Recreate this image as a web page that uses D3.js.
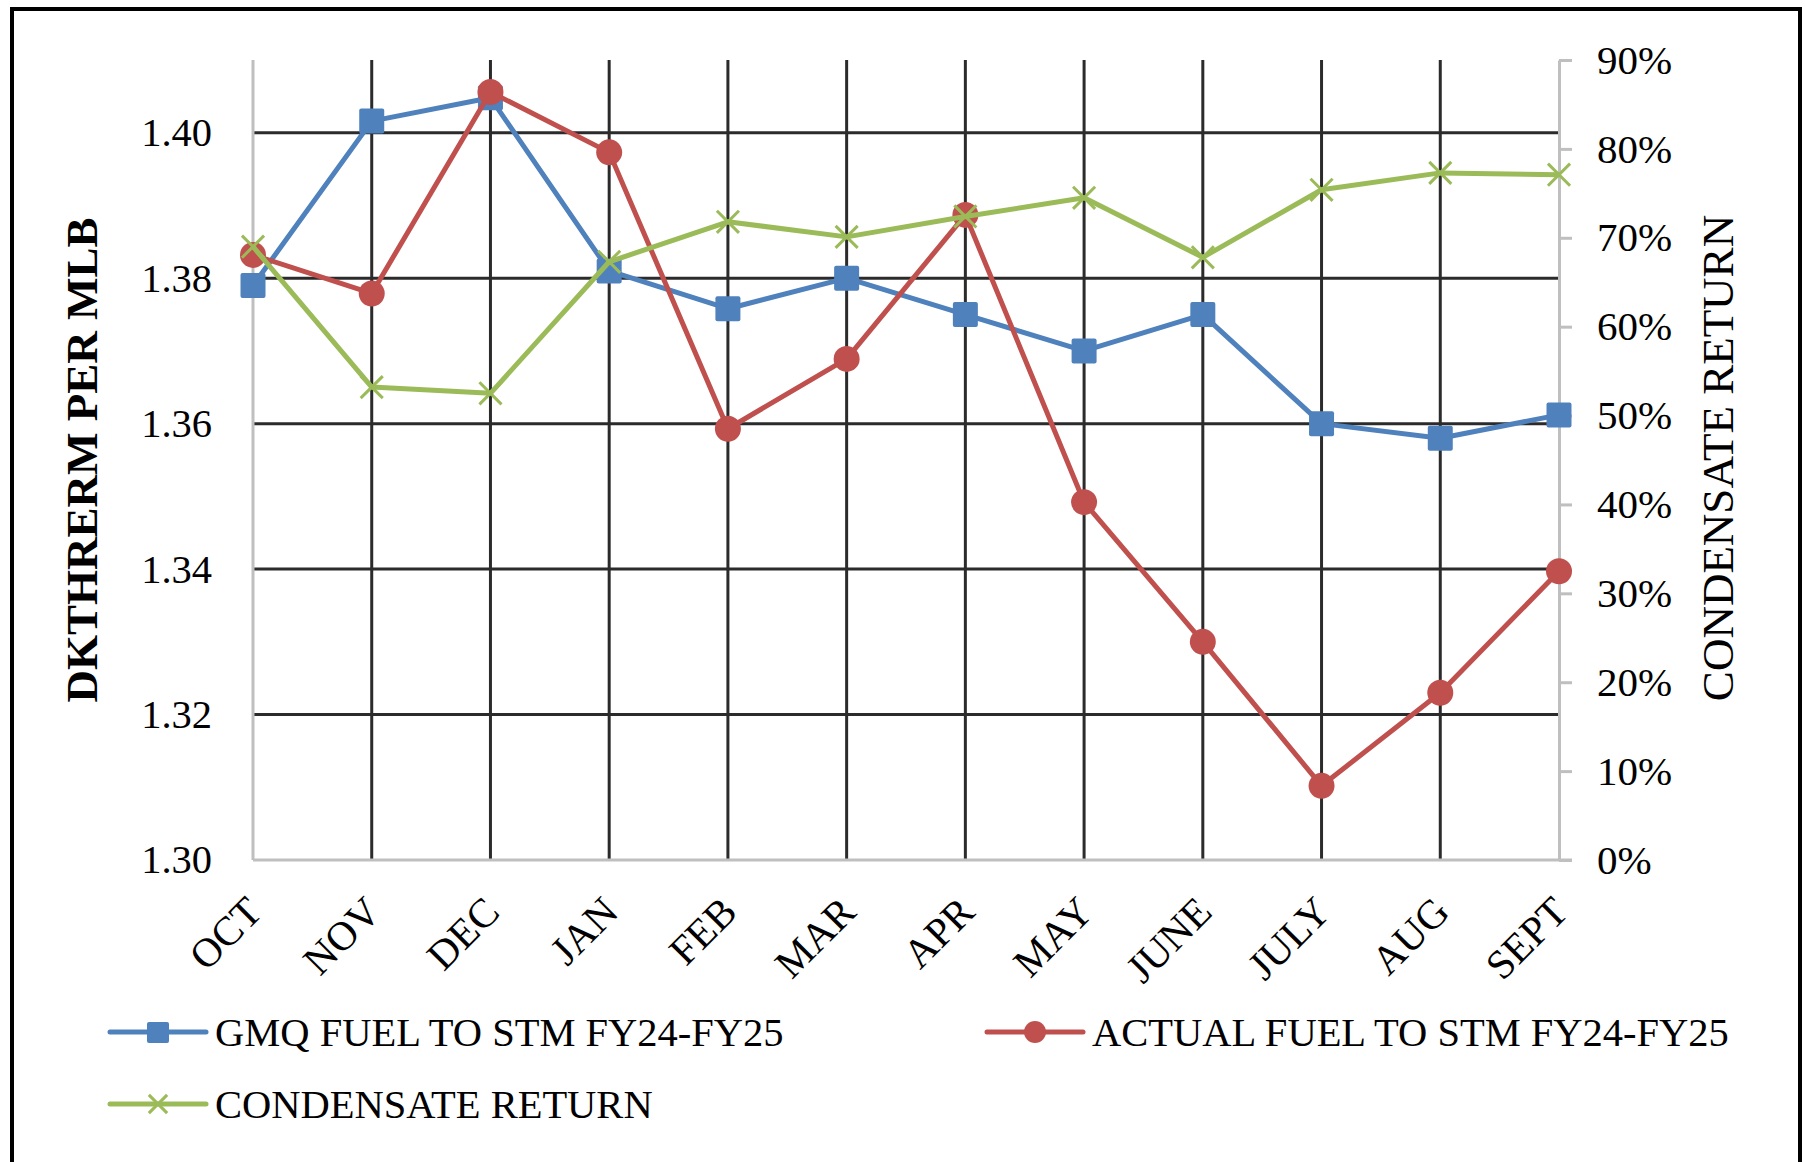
<!DOCTYPE html>
<html>
<head>
<meta charset="utf-8">
<script src="https://cdn.jsdelivr.net/npm/d3@7"></script>
<style>
  body { margin: 0; background: #fff; }
  text { font-family: "Liberation Serif", "Times New Roman", serif; fill: #000; }
</style>
</head>
<body>
<div class="panel"></div>
<script>
// Data

const months = ["OCT", "NOV", "DEC", "JAN", "FEB", "MAR", "APR", "MAY", "JUNE", "JULY", "AUG", "SEPT"];

const gmqFuel = [1.379, 1.4016, 1.4048, 1.381, 1.3758, 1.380, 1.375, 1.370, 1.375, 1.360, 1.358, 1.3612];
const actualFuel = [1.3832, 1.3779, 1.4056, 1.3973, 1.3593, 1.3689, 1.3887, 1.3492, 1.330, 1.3102, 1.323, 1.3397];
const condensate = [0.69, 0.532, 0.525, 0.673, 0.718, 0.701, 0.724, 0.745, 0.678, 0.754, 0.773, 0.771];

const leftTicks = [1.30, 1.32, 1.34, 1.36, 1.38, 1.40];
const rightTicks = [0, 0.1, 0.2, 0.3, 0.4, 0.5, 0.6, 0.7, 0.8, 0.9];

const seriesNames = ["GMQ FUEL TO STM FY24-FY25", "ACTUAL FUEL TO STM FY24-FY25", "CONDENSATE RETURN"];

// Render chart

drawChart();

function drawChart() {

    const params = {
        width: 1805,
        height: 1162,
        left: 253,
        right: 1559,
        top: 60,
        bottom: 860,
        blue: "#4f81bd",
        red: "#c0504d",
        green: "#9bbb59",
        grid: "#2b2b2b",
        axis: "#bfbfbf"
    };

    const svg = d3.select(".panel").append("svg")
        .attr("width", params.width)
        .attr("height", params.height);

    svg.append("rect")
        .attr("x", 12)
        .attr("y", 9)
        .attr("width", 1788)
        .attr("height", 1200)
        .attr("fill", "none")
        .attr("stroke", "#000")
        .attr("stroke-width", 4);

    const x = d3.scalePoint()
        .domain(months)
        .range([params.left, params.right]);

    const yLeft = d3.scaleLinear()
        .domain([1.30, 1.41])
        .range([params.bottom, params.top]);

    const yRight = d3.scaleLinear()
        .domain([0, 0.9])
        .range([params.bottom, params.top]);

    // gridlines
    svg.append("g")
        .selectAll("line")
        .data(leftTicks.slice(1))
        .enter().append("line")
        .attr("x1", params.left)
        .attr("x2", params.right)
        .attr("y1", d => yLeft(d))
        .attr("y2", d => yLeft(d))
        .attr("stroke", params.grid)
        .attr("stroke-width", 3);

    svg.append("g")
        .selectAll("line")
        .data(months.slice(1, -1))
        .enter().append("line")
        .attr("x1", d => x(d))
        .attr("x2", d => x(d))
        .attr("y1", params.top)
        .attr("y2", params.bottom)
        .attr("stroke", params.grid)
        .attr("stroke-width", 3);

    // left axis
    const leftAxis = svg.append("g")
        .attr("transform", `translate(${params.left},0)`)
        .call(d3.axisLeft(yLeft)
            .tickValues(leftTicks)
            .tickFormat(d3.format(".2f"))
            .tickSize(0)
            .tickPadding(41));

    leftAxis.select(".domain").remove();
    leftAxis.selectAll("text")
        .attr("font-size", 40.5)
        .attr("font-family", "Liberation Serif");

    // right axis
    const rightAxis = svg.append("g")
        .attr("transform", `translate(${params.right},0)`)
        .call(d3.axisRight(yRight)
            .tickValues(rightTicks)
            .tickFormat(d3.format(".0%"))
            .tickSize(13)
            .tickSizeOuter(0)
            .tickPadding(25));

    rightAxis.select(".domain").attr("stroke", params.axis).attr("stroke-width", 3);
    rightAxis.selectAll(".tick line").attr("stroke", params.axis).attr("stroke-width", 3);
    rightAxis.selectAll("text")
        .attr("font-size", 41)
        .attr("font-family", "Liberation Serif");

    // left and bottom axis lines
    svg.append("line")
        .attr("x1", params.left).attr("x2", params.left)
        .attr("y1", params.top).attr("y2", params.bottom)
        .attr("stroke", params.axis).attr("stroke-width", 3);

    svg.append("line")
        .attr("x1", params.left).attr("x2", params.right + 13)
        .attr("y1", params.bottom).attr("y2", params.bottom)
        .attr("stroke", params.axis).attr("stroke-width", 3);

    // month labels
    svg.append("g")
        .selectAll("text")
        .data(months)
        .enter().append("text")
        .attr("transform", d => `translate(${x(d) + 1},${params.bottom + 44}) rotate(-45)`)
        .attr("text-anchor", "end")
        .attr("dy", "0.35em")
        .attr("font-size", 41)
        .text(d => d);

    // axis titles
    svg.append("text")
        .attr("transform", "translate(81,460) rotate(-90)")
        .attr("text-anchor", "middle")
        .attr("dy", "0.35em")
        .attr("font-size", 45)
        .attr("font-weight", "bold")
        .text("DKTHRERM PER MLB");

    svg.append("text")
        .attr("transform", "translate(1717,458) rotate(-90)")
        .attr("text-anchor", "middle")
        .attr("dy", "0.35em")
        .attr("font-size", 45)
        .text("CONDENSATE RETURN");

    // series
    const lineLeft = d3.line()
        .x((d, i) => x(months[i]))
        .y(d => yLeft(d));

    const lineRight = d3.line()
        .x((d, i) => x(months[i]))
        .y(d => yRight(d));

    svg.append("path")
        .datum(gmqFuel)
        .attr("d", lineLeft)
        .attr("fill", "none")
        .attr("stroke", params.blue)
        .attr("stroke-width", 5)
        .attr("stroke-linejoin", "round");

    svg.append("g")
        .selectAll("rect")
        .data(gmqFuel)
        .enter().append("rect")
        .attr("x", (d, i) => x(months[i]) - 12.5)
        .attr("y", d => yLeft(d) - 12.5)
        .attr("width", 25)
        .attr("height", 25)
        .attr("rx", 2)
        .attr("fill", params.blue);

    svg.append("path")
        .datum(actualFuel)
        .attr("d", lineLeft)
        .attr("fill", "none")
        .attr("stroke", params.red)
        .attr("stroke-width", 5)
        .attr("stroke-linejoin", "round");

    svg.append("g")
        .selectAll("circle")
        .data(actualFuel)
        .enter().append("circle")
        .attr("cx", (d, i) => x(months[i]))
        .attr("cy", d => yLeft(d))
        .attr("r", 13)
        .attr("fill", params.red);

    svg.append("path")
        .datum(condensate)
        .attr("d", lineRight)
        .attr("fill", "none")
        .attr("stroke", params.green)
        .attr("stroke-width", 5)
        .attr("stroke-linejoin", "round");

    const cross = d3.symbol().type(d3.symbolX).size(320);

    svg.append("g")
        .selectAll("path")
        .data(condensate)
        .enter().append("path")
        .attr("transform", (d, i) => `translate(${x(months[i])},${yRight(d)})`)
        .attr("d", cross)
        .attr("fill", "none")
        .attr("stroke", params.green)
        .attr("stroke-width", 3);

    // legend
    const legendItems = [
        { name: seriesNames[0], color: params.blue, marker: "square", x: 110, y: 1032 },
        { name: seriesNames[1], color: params.red, marker: "circle", x: 987, y: 1032 },
        { name: seriesNames[2], color: params.green, marker: "x", x: 110, y: 1104 }
    ];

    const legend = svg.append("g")
        .selectAll("g")
        .data(legendItems)
        .enter().append("g")
        .attr("transform", d => `translate(${d.x},${d.y})`);

    legend.append("line")
        .attr("x1", 0)
        .attr("x2", 96)
        .attr("stroke", d => d.color)
        .attr("stroke-width", 5)
        .attr("stroke-linecap", "round");

    legend.filter(d => d.marker === "square").append("rect")
        .attr("x", 37).attr("y", -10)
        .attr("width", 22).attr("height", 21)
        .attr("rx", 2)
        .attr("fill", d => d.color);

    legend.filter(d => d.marker === "circle").append("circle")
        .attr("cx", 48)
        .attr("r", 11)
        .attr("fill", d => d.color);

    legend.filter(d => d.marker === "x").append("path")
        .attr("transform", "translate(48,0)")
        .attr("d", d3.symbol().type(d3.symbolX).size(220))
        .attr("fill", "none")
        .attr("stroke", d => d.color)
        .attr("stroke-width", 3);

    legend.append("text")
        .attr("x", 105)
        .attr("dy", "0.35em")
        .attr("font-size", 40.5)
        .text(d => d.name);
}
</script>
</body>
</html>
